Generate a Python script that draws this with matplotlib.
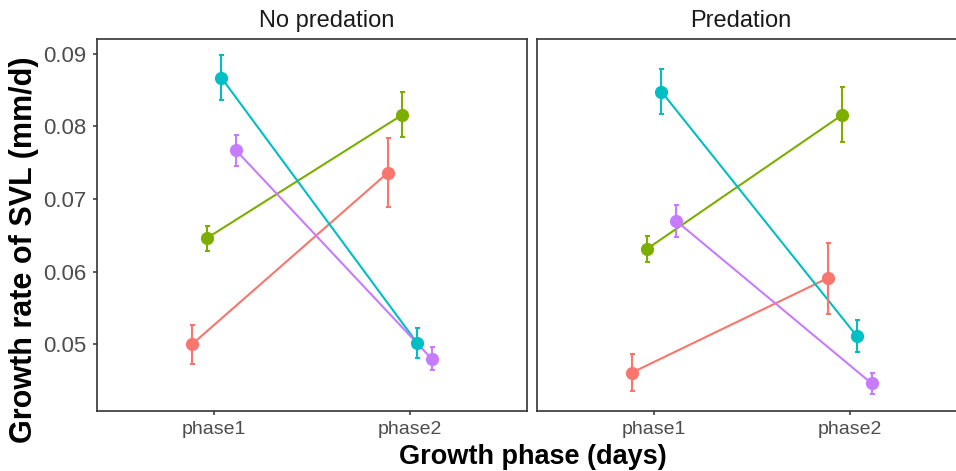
import matplotlib
matplotlib.use("Agg")
import matplotlib.pyplot as plt
import numpy as np

plt.rcParams['font.family'] = ['Liberation Sans', 'DejaVu Sans']

# ---- data ----
panels = ["No predation", "Predation"]
phases = ["phase1", "phase2"]
groups = ["g1", "g2", "g3", "g4"]
colors = ["#F8766D", "#7CAE00", "#00BFC4", "#C77CFF"]

# No predation: mean and se per group, [phase1, phase2]
nopred_g1 = [0.0500, 0.0736]
nopred_g2 = [0.0646, 0.0816]
nopred_g3 = [0.0867, 0.0502]
nopred_g4 = [0.0767, 0.0480]
nopred_se_g1 = [0.0027, 0.00475]
nopred_se_g2 = [0.0017, 0.0031]
nopred_se_g3 = [0.0031, 0.0021]
nopred_se_g4 = [0.0021, 0.0016]

# Predation
pred_g1 = [0.0461, 0.0591]
pred_g2 = [0.0631, 0.0816]
pred_g3 = [0.0848, 0.0511]
pred_g4 = [0.0670, 0.0446]
pred_se_g1 = [0.0026, 0.0049]
pred_se_g2 = [0.0018, 0.0038]
pred_se_g3 = [0.0031, 0.0022]
pred_se_g4 = [0.0022, 0.0015]

y_ticks = [0.05, 0.06, 0.07, 0.08, 0.09]

means = [[nopred_g1, nopred_g2, nopred_g3, nopred_g4],
         [pred_g1, pred_g2, pred_g3, pred_g4]]
ses = [[nopred_se_g1, nopred_se_g2, nopred_se_g3, nopred_se_g4],
       [pred_se_g1, pred_se_g2, pred_se_g3, pred_se_g4]]

W, H = 956, 471
fig = plt.figure(figsize=(W / 100, H / 100), dpi=100)

dodge = 0.3
n = len(groups)
offsets = [(-dodge / 2) + dodge * (i + 0.5) / n for i in range(n)]

ax_pos = [(96.7, 39.3, 430.3, 371.4), (536.7, 39.3, 430.3, 371.4)]
title_x = [326.7, 741.0]

x_base = np.arange(1, len(phases) + 1)
for p, (l, t, w, h) in enumerate(ax_pos):
    ax = fig.add_axes([l / W, 1 - (t + h) / H, w / W, h / H])
    for gi in range(n):
        xs = x_base + offsets[gi]
        m = means[p][gi]
        s = ses[p][gi]
        ax.plot(xs, m, color=colors[gi], lw=1.5, zorder=2)
        ax.errorbar(xs, m, yerr=s, fmt='none', ecolor=colors[gi],
                    elinewidth=1.5, capsize=1.8, capthick=1.5, zorder=3)
        ax.plot(xs, m, 'o', color=colors[gi], ms=9.5, mec='none', zorder=4)
    ax.set_xlim(0.4, 2.6)
    ax.set_ylim(0.04085, 0.0920)
    ax.set_xticks(x_base)
    ax.set_xticklabels(phases)
    ax.set_yticks(y_ticks)
    if p == 0:
        ax.set_yticklabels([f"{v:.2f}" for v in y_ticks])
    else:
        ax.tick_params(axis='y', left=False, labelleft=False)
    ax.tick_params(axis='x', colors='#333333', labelcolor='#4D4D4D',
                   labelsize=14, length=3.2, width=1.1, pad=4)
    ax.tick_params(axis='y', colors='#333333', labelcolor='#4D4D4D',
                   labelsize=16, length=3.2, width=1.1, pad=4.5)
    for sp in ax.spines.values():
        sp.set_color('#333333')
        sp.set_linewidth(1.2)
    fig.text(title_x[p] / W, 1 - 27 / H, panels[p], ha='center',
             va='baseline', fontsize=17, color='#1A1A1A')

fig.text(533 / W, 6.5 / H, "Growth phase (days)", ha='center', va='baseline',
         fontsize=19.5, fontweight='bold', color='black')
fig.text(24 / W, 1 - 250 / H, "Growth rate of SVL (mm/d)", ha='center',
         va='center', rotation=90, fontsize=22, fontweight='bold',
         color='black')

fig.savefig("out.png", dpi=100)
